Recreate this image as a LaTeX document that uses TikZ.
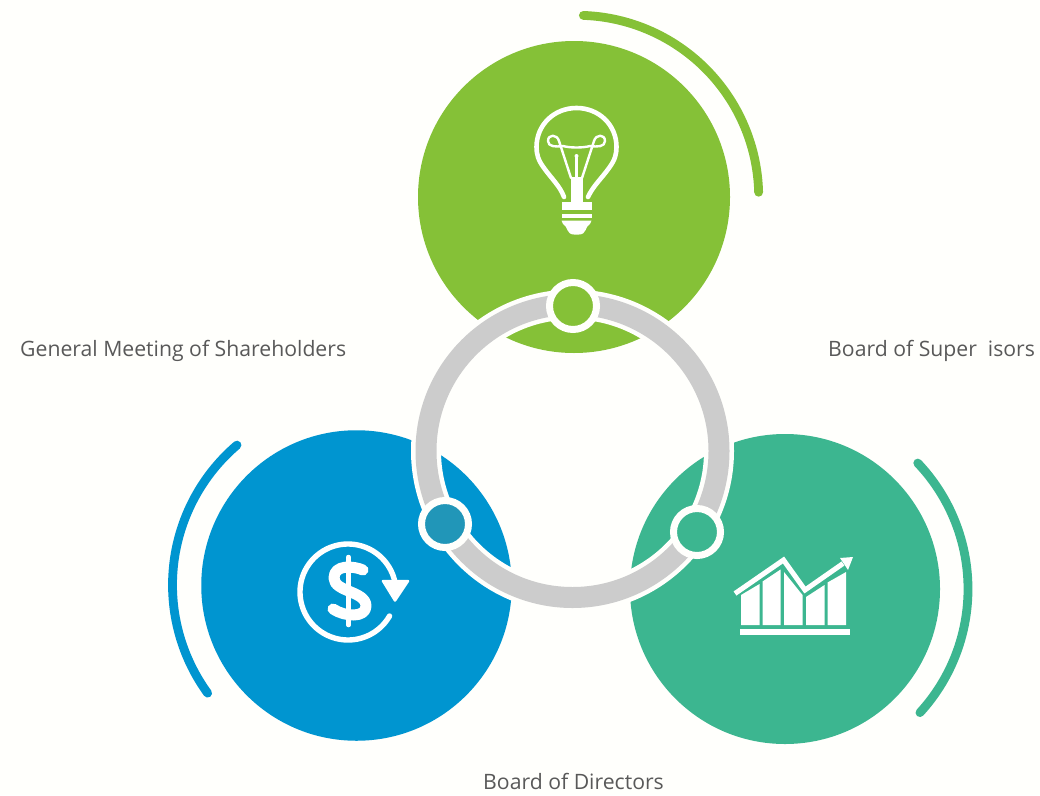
\documentclass[tikz,border=0pt]{standalone}
\usepackage{fontspec}
\setmainfont{Open Sans}
\definecolor{bgc}{HTML}{FFFFFC}
\definecolor{gc}{HTML}{85C137}
\definecolor{bc}{HTML}{0095D0}
\definecolor{tc}{HTML}{3CB690}
\definecolor{dotb}{HTML}{2196B8}
\definecolor{ringc}{HTML}{CCCCCC}
\definecolor{txtc}{HTML}{595959}
\tikzset{
  bigdisc/.style={circle,minimum size=#1,inner sep=0pt,draw=none},
  smalldisc/.style={circle,minimum size=47pt,inner sep=0pt,draw=bgc,line width=7pt},
  label text/.style={text=txtc,font=\fontsize{21.2}{25}\selectfont,inner sep=0pt,anchor=west},
  outerarc/.style={line width=8.8pt,line cap=round,smooth,samples=50,variable=\t},
  iconline/.style={draw=white,line width=4.6pt,line cap=round,line join=round},
  thinline/.style={draw=white,line width=2.4pt,line cap=round,line join=round},
  iconfill/.style={fill=white,draw=none}
}
\begin{document}
\begin{tikzpicture}[x=1pt,y=-1pt]
\useasboundingbox (0,0) rectangle (1040,795);
\fill[bgc] (0,0) rectangle (1040,795);
% big discs
\node[bigdisc=312pt,fill=gc] (top) at (574,197) {};
\node[bigdisc=310.5pt,fill=bc] (left) at (356.5,585.5) {};
\node[bigdisc=310pt,fill=tc] (right) at (785,589) {};
% outer arcs
\draw[outerarc,draw=gc,domain=-88:-1.5] plot ({577+181.7*cos(\t)},{197+181.7*sin(\t)});
\draw[outerarc,draw=bc,domain=144:229.5] plot ({356.5+184*cos(\t)},{585+184*sin(\t)});
\draw[outerarc,draw=tc,domain=-43.5:42.5] plot ({785+183*cos(\t)},{589+183*sin(\t)});
% ring
\coordinate (ringc) at (572.5,451);
\draw[bgc,line width=30pt] (ringc) circle[radius=146.5pt];
\draw[ringc,line width=21pt] (ringc) circle[radius=146.5pt];
% small discs
\node[smalldisc,fill=gc] (dotT) at (573,306) {};
\node[smalldisc,fill=dotb] (dotL) at (445,524) {};
\node[smalldisc,fill=tc] (dotR) at (697,532) {};
% bulb
\draw[iconline] (564,197) .. controls (560,186) and (551,178) .. (544,168)
  .. controls (538,160) and (536.5,154) .. (536.5,147)
  .. controls (536.5,125) and (554,108) .. (576.5,108)
  .. controls (599,108) and (616.5,125) .. (616.5,147)
  .. controls (616.5,154) and (615,160) .. (609,168)
  .. controls (602,178) and (593,186) .. (588,197);
\draw[thinline] (571,178) -- (559,141) .. controls (557,134) and (548,134) .. (548,141)
  .. controls (548,147) and (556,147) .. (563,146)
  .. controls (570,148) and (583,148) .. (590,146)
  .. controls (597,147) and (605,147) .. (605,141)
  .. controls (605,134) and (596,134) .. (594,141) -- (582,178);
\draw[thinline] (576.5,178) -- (576.5,156);
\fill[white] (576.5,156) circle[radius=2pt];
\path[iconfill] (570.7,177) rectangle (582.7,203);
\path[iconfill] (561.5,201.7) rectangle (591.5,210);
\path[iconfill] (561.5,213.5) rectangle (591.5,217.5);
\path[iconfill] (561.5,220.5) -- (591.5,220.5) -- (590,224) .. controls (585,226) and (587,234.5) .. (579,234.5)
  -- (574,234.5) .. controls (566,234.5) and (568,226) .. (563,224) -- cycle;
% dollar icon
\draw[iconline,line width=5.4pt,domain=-330:-14,samples=60,variable=\t,smooth]
  plot ({348+48*cos(\t)},{592+48*sin(\t)});
\path[iconfill,draw=white,line width=2.5pt,line join=round] (383,581) -- (408,581) -- (395,600.5) -- cycle;
\draw[iconline,line width=11pt,line cap=round] (363,570)
  .. controls (354,566) and (334,564) .. (334,578)
  .. controls (334,592) and (366,591) .. (366,606)
  .. controls (366,618) and (345,617) .. (333,609);
\draw[iconline,line width=4.5pt] (348.5,557) -- (348.5,625);
% chart icon
\path[iconfill] (740,629) rectangle (849.5,635);
\path[iconfill] (741,595) -- (759.5,584) -- (759.5,625) -- (741,625) -- cycle;
\path[iconfill] (762.5,581.5) -- (780.5,569.5) -- (780.5,625) -- (762.5,625) -- cycle;
\path[iconfill] (784,572) -- (802.5,595) -- (802.5,625) -- (784,625) -- cycle;
\path[iconfill] (806,597) -- (824.5,585) -- (824.5,625) -- (806,625) -- cycle;
\path[iconfill] (827.5,582.5) -- (846,572) -- (846,625) -- (827.5,625) -- cycle;
\draw[draw=white,line width=5pt,line join=miter] (735,593.5) -- (783.5,560) -- (805,590) -- (843,563.5);
\path[iconfill] (853,557) -- (840,558) -- (848,570) -- cycle;
% labels
\node[label text] (lblG) at (20,351) {General Meeting of Shareholders};
\node[label text] (lblS) at (828,351) {Board of Super\hspace{11pt}isors};
\node[label text] (lblD) at (483,781) {Board of Directors};
\end{tikzpicture}
\end{document}
